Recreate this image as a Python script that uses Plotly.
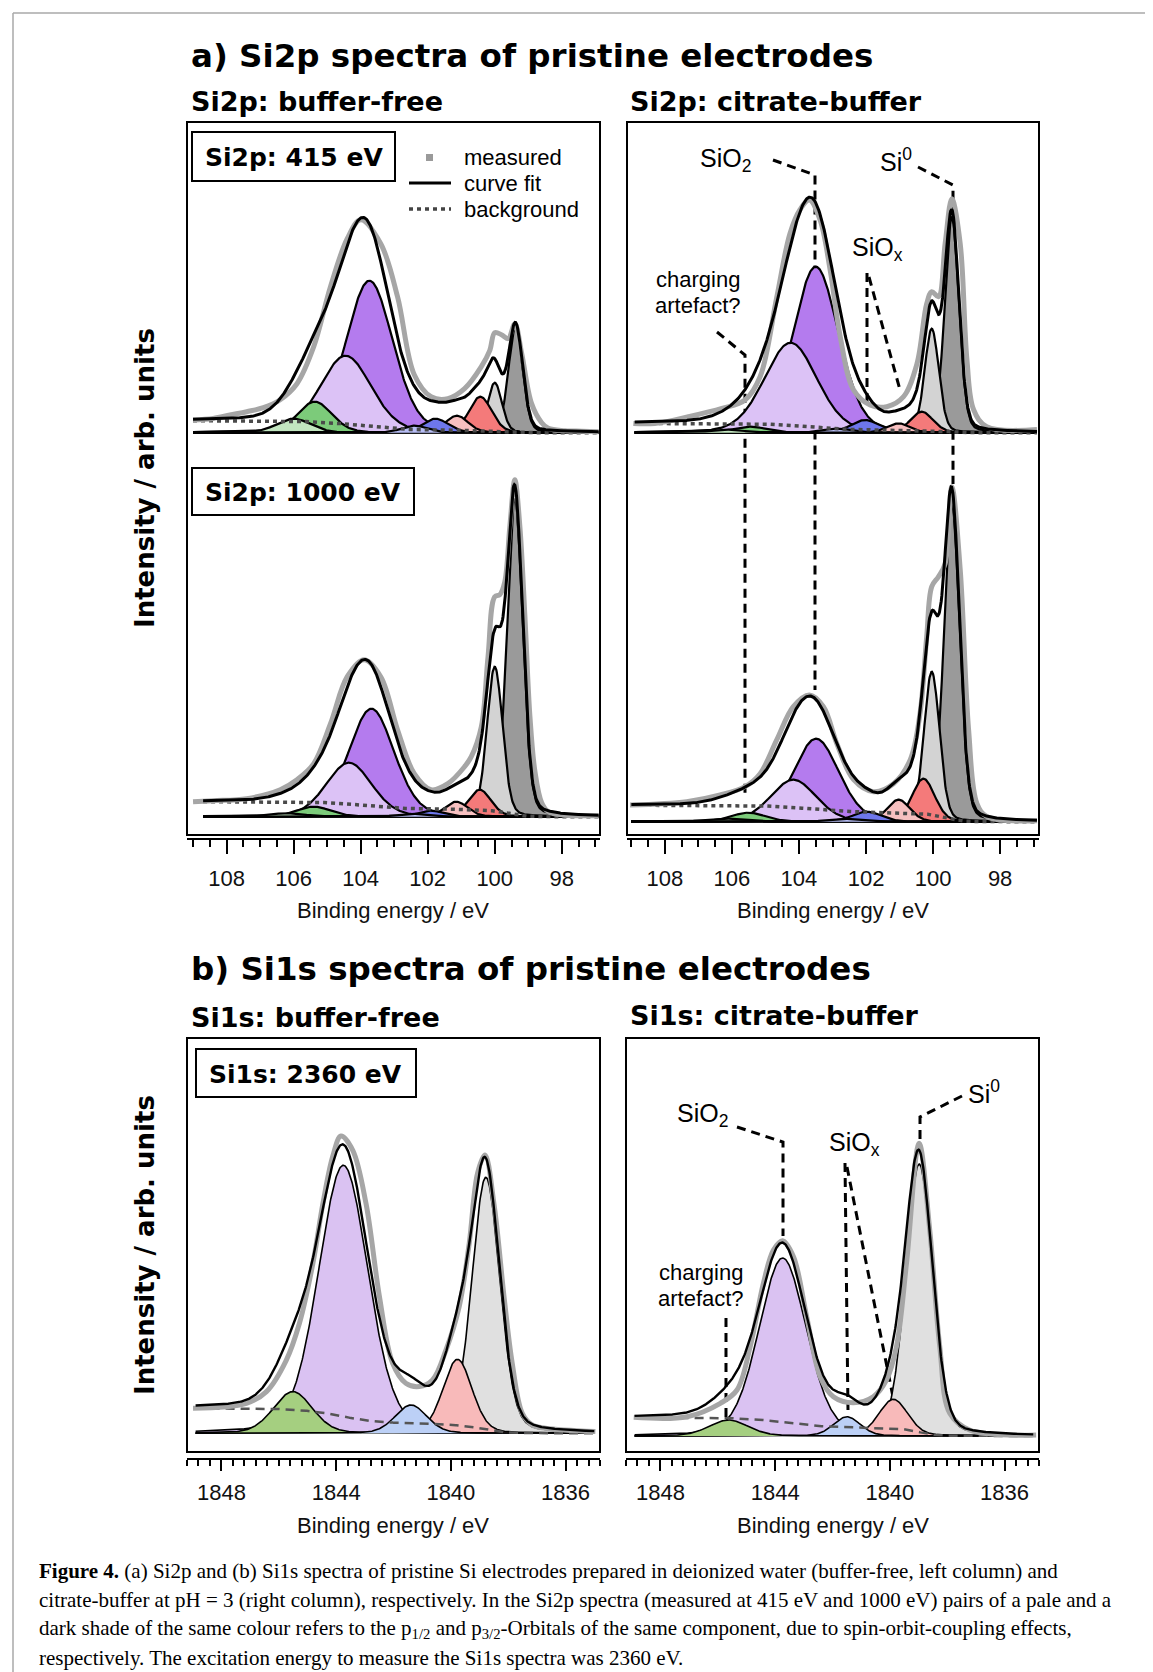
import numpy as np
import plotly.graph_objects as go

W, H = 1153, 1672
OFF = 8                      # the page body margin shifts the figure by 8 px
FW, FH = W - OFF, H - OFF

# ======================= DATA =======================
# Si2p fit components (order: green p1/2, green p3/2, purple p1/2, purple p3/2,
# blue p1/2, blue p3/2, red p1/2, red p3/2, grey p1/2, grey p3/2)
si2p_colors = ["#c2e6c0", "#7ccb7a", "#dcc2f6", "#b47bee", "#b7bdf4", "#6e77ec",
               "#f7c0c0", "#f47a7a", "#d3d3d3", "#9a9a9a"]

# buffer-free, 415 eV
A1_center = [106.00, 105.37, 104.45, 103.74, 102.40, 101.77, 101.13, 100.43, 100.00, 99.38]
A1_height = [14, 31, 77, 152, 7, 14, 17, 36, 50, 105]
A1_fwhm = [1.2, 1.2, 1.8, 1.65, 0.9, 0.9, 0.8, 0.8, 0.5, 0.5]
A1_bg = 12.0
A1_meas_E = [109.0, 108.4, 107.9, 107.4, 106.9, 106.4, 105.9, 105.4, 104.9, 104.4, 104.0, 103.4,
             102.9, 102.4, 101.9, 101.4, 100.9, 100.4, 100.15, 100.0, 99.8, 99.6, 99.4, 99.2,
             98.9, 98.6, 98.4, 97.9, 97.4, 96.9]
A1_meas_I = [12.7, 14.3, 17.7, 21, 25, 33, 49, 86, 146, 194, 213, 189,
             136, 58, 36, 34, 44, 66, 82, 100, 98, 94, 109, 80,
             29, 10, 4.3, 2, 1.5, 1]

# buffer-free, 1000 eV
A2_center = [106.20, 105.40, 104.35, 103.68, 102.50, 101.90, 101.15, 100.45, 100.00, 99.40]
A2_height = [3.5, 10, 54, 108, 3, 6, 15, 27, 150, 318]
A2_fwhm = [1.2, 1.2, 1.6, 1.6, 0.9, 0.9, 0.8, 0.8, 0.55, 0.55]
A2_bg = 15.0
A2_meas_E = [109.0, 108.4, 107.4, 106.4, 105.9, 105.4, 104.9, 104.4, 103.9, 103.4, 102.9, 102.4,
             101.9, 101.4, 100.9, 100.7, 100.4, 100.2, 100.0, 99.85, 99.7, 99.55, 99.4, 99.25,
             99.1, 98.95, 98.8, 98.6, 98.4, 97.9, 96.9]
A2_meas_I = [15, 16, 18, 27, 37, 53, 93, 140, 157, 140, 87, 43,
             27, 33, 50, 60, 90, 160, 220, 222, 235, 290, 337, 290,
             200, 100, 45, 14, 5, 1.5, 1]

# citrate-buffer, 415 eV
B1_center = [106.16, 105.46, 104.25, 103.50, 102.87, 102.03, 101.03, 100.34, 100.04, 99.44]
B1_height = [3, 6, 90, 166, 4, 12.7, 9.3, 21, 104, 215]
B1_fwhm = [1.2, 1.2, 1.85, 1.6, 1.0, 1.0, 0.8, 0.8, 0.5, 0.5]
B1_bg = 9.3
B1_meas_E = [108.94, 108.3, 107.3, 106.3, 105.61, 105.16, 104.66, 104.27, 103.97, 103.69, 103.37,
             103.07, 102.77, 102.37, 101.88, 101.38, 100.88, 100.48, 100.19, 100.04, 99.84,
             99.64, 99.44, 99.19, 98.99, 98.79, 98.4, 96.9]
B1_meas_I = [9.3, 9.3, 16, 24.3, 32.7, 56, 136, 199, 223, 232.7, 212.7,
             162.7, 96, 42.7, 27.7, 26, 36, 69, 129, 141, 136,
             189, 234, 189, 73, 23, 6, 3.3]

# citrate-buffer, 1000 eV
B2_center = [106.26, 105.51, 104.17, 103.49, 102.70, 101.98, 101.03, 100.29, 100.04, 99.44]
B2_height = [3.3, 9, 42, 83, 3, 10, 22, 43, 150, 318]
B2_fwhm = [1.2, 1.2, 1.6, 1.6, 1.0, 1.0, 0.8, 0.8, 0.55, 0.55]
B2_bg = 16.5
B2_meas_E = [109.04, 107.35, 106.35, 105.61, 105.16, 104.66, 104.17, 103.69, 103.27, 102.87,
             102.37, 101.78, 101.18, 100.68, 100.39, 100.19, 100.04, 99.84, 99.64, 99.44,
             99.19, 98.94, 98.69, 98.39, 96.9]
B2_meas_I = [16.7, 20, 26.7, 35, 48, 82, 115, 126.7, 115, 78,
             42, 30, 38, 62, 108, 185, 235, 245, 258, 335,
             252, 92, 18, 5, 1]

# Si1s fit components (order: green, purple, blue, pink, grey)
si1s_colors = ["#a5cf80", "#dac2f2", "#bcd0f6", "#f8baba", "#e0e0e0"]

C1_center = [1845.51, 1843.75, 1841.39, 1839.77, 1838.78]
C1_height = [41.7, 268, 28.3, 74, 256]
C1_fwhm = [1.6, 2.05, 1.3, 1.2, 1.15]
C1_bg = 25.0
C1_meas_E = [1848.99, 1847.13, 1846.43, 1845.74, 1845.28, 1844.81, 1844.46, 1844.12, 1843.83,
             1843.42, 1842.96, 1842.49, 1842.03, 1841.57, 1841.10, 1840.64, 1840.17, 1839.71,
             1839.36, 1839.07, 1838.81, 1838.49, 1838.14, 1837.86, 1837.51, 1837.16, 1836.70,
             1834.96]
C1_meas_I = [25, 30, 41.7, 73, 110, 170, 230, 276.7, 297.3,
             283, 230, 136.7, 70, 50, 46.7, 53.3, 83.3, 126.7,
             190, 260, 278.3, 228, 135, 70, 20, 8.3, 5,
             1.7]

C2_center = [1845.62, 1843.74, 1841.50, 1839.88, 1838.98]
C2_height = [16, 178, 19.3, 36.7, 272]
C2_fwhm = [1.6, 1.95, 1.1, 1.2, 1.1]
C2_bg = 18.5
C2_meas_E = [1848.93, 1847.07, 1845.91, 1845.33, 1844.87, 1844.41, 1844.06, 1843.74, 1843.36,
             1842.90, 1842.43, 1841.97, 1841.28, 1840.58, 1840.12, 1839.77, 1839.42, 1838.98,
             1838.61, 1838.26, 1837.91, 1837.22, 1834.90]
C2_meas_I = [18.7, 19.3, 32.7, 46, 89.3, 152.7, 186, 195.3, 179.3,
             119.3, 59.3, 39.3, 33.3, 39.3, 56, 89.3, 172.7, 292.7,
             206, 89.3, 22.7, 6, 1]

# tick labels
si2p_ticks = [108, 106, 104, 102, 100, 98]
si1s_ticks = [1848, 1844, 1840, 1836]

# ======================= HELPERS =======================
def px(x):
    return (x - OFF) / FW


def py(y):
    return 1 - (y - OFF) / FH


def pvoigt(E, c, h, w, eta):
    x = (E - c) / w
    return h * ((1 - eta) * np.exp(-4 * np.log(2) * x ** 2) + eta / (1 + 4 * x ** 2))


def shirley(E, comp_sum, b_high):
    order = np.argsort(E)
    Es, ys = E[order], comp_sum[order]
    cum = np.concatenate([[0.0], np.cumsum(0.5 * (ys[1:] + ys[:-1]) * np.diff(Es))])
    b = b_high * cum / cum[-1]
    out = np.empty_like(b)
    out[order] = b
    return out


boxAL = (187, 122, 600, 835)
boxAR = (627, 122, 1039, 835)
boxBL = (187, 1038, 600, 1452)
boxBR = (626, 1038, 1039, 1452)

spectra = [
    dict(box=boxAL, base=432.7, xr=(109.18, 96.86), grid=(109.0, 96.9), c=A1_center, h=A1_height,
         w=A1_fwhm, bg=A1_bg, mE=A1_meas_E, mI=A1_meas_I, kind="si2p", ticks=None),
    dict(box=boxAL, base=816.7, xr=(109.18, 96.86), grid=(108.7, 96.9), c=A2_center, h=A2_height,
         w=A2_fwhm, bg=A2_bg, mE=A2_meas_E, mI=A2_meas_I, kind="si2p", ticks=839),
    dict(box=boxAR, base=432.7, xr=(109.13, 96.84), grid=(108.9, 96.9), c=B1_center, h=B1_height,
         w=B1_fwhm, bg=B1_bg, mE=B1_meas_E, mI=B1_meas_I, kind="si2p", ticks=None),
    dict(box=boxAR, base=821.7, xr=(109.13, 96.84), grid=(109.0, 96.9), c=B2_center, h=B2_height,
         w=B2_fwhm, bg=B2_bg, mE=B2_meas_E, mI=B2_meas_I, kind="si2p", ticks=839),
    dict(box=boxBL, base=1433.3, xr=(1849.2, 1834.8), grid=(1848.9, 1835.0), c=C1_center, h=C1_height,
         w=C1_fwhm, bg=C1_bg, mE=C1_meas_E, mI=C1_meas_I, kind="si1s", ticks=1459),
    dict(box=boxBR, base=1436.0, xr=(1849.2, 1834.8), grid=(1848.9, 1835.0), c=C2_center, h=C2_height,
         w=C2_fwhm, bg=C2_bg, mE=C2_meas_E, mI=C2_meas_I, kind="si1s", ticks=1459),
]

SANS = "Liberation Sans, Arial, sans-serif"
HEAVY = "DejaVu Sans, Arial Black, sans-serif"
SERIF = "Liberation Serif, Times New Roman, serif"

fig = go.Figure()
layout = dict(width=FW, height=FH, margin=dict(l=0, r=0, t=0, b=0),
              paper_bgcolor="white", plot_bgcolor="rgba(0,0,0,0)", showlegend=False)

for i, s in enumerate(spectra, start=1):
    xa = "x" if i == 1 else f"x{i}"
    ya = "y" if i == 1 else f"y{i}"
    l, t, r, b = s["box"]
    E = np.linspace(s["grid"][0], s["grid"][1], 700)
    if s["kind"] == "si2p":
        eta, lw, cols = 0.18, 2.2, si2p_colors
    else:
        eta, lw, cols = 0.2, 1.6, si1s_colors
    comps = [pvoigt(E, c, h, w, eta) for c, h, w in zip(s["c"], s["h"], s["w"])]
    total = np.sum(comps, axis=0)
    bg = shirley(E, total, s["bg"])
    env = total + bg
    order = np.argsort(s["h"])[::-1]
    for k in order:
        fig.add_trace(go.Scatter(x=E, y=comps[k], mode="lines", fill="tozeroy",
                                 fillcolor=cols[k], line=dict(color="black", width=lw),
                                 xaxis=xa, yaxis=ya, hoverinfo="skip"))
    if s["kind"] == "si2p":
        bgline = dict(color="#4a4a4a", width=3.5, dash="4px,4px")
    else:
        bgline = dict(color="#555555", width=2.5, dash="9px,6px")
    fig.add_trace(go.Scatter(x=E, y=bg, mode="lines", line=bgline, xaxis=xa, yaxis=ya, hoverinfo="skip"))
    fig.add_trace(go.Scatter(x=s["mE"], y=s["mI"], mode="lines",
                             line=dict(color="#a6a6a6", width=5, shape="spline"),
                             xaxis=xa, yaxis=ya, hoverinfo="skip"))
    fig.add_trace(go.Scatter(x=E, y=env, mode="lines",
                             line=dict(color="black", width=3 if s["kind"] == "si2p" else 2.4),
                             xaxis=xa, yaxis=ya, hoverinfo="skip"))

    xdict = dict(domain=[px(l), px(r)], range=list(s["xr"]), showgrid=False, zeroline=False, fixedrange=True)
    if s["ticks"] is None:
        xdict.update(visible=False, anchor=ya)
    else:
        if s["kind"] == "si2p":
            tv, mdt, t0, tl, mtl, so = si2p_ticks, 0.5, 100, 14, 7, 6
        else:
            tv, mdt, t0, tl, mtl, so = si1s_ticks, 0.4, 1836, 11, 6, 3
        xdict.update(anchor="free", position=py(s["ticks"]), showline=True, linecolor="black", linewidth=1.5,
                     ticks="outside", ticklen=tl, tickwidth=1.6, tickcolor="black",
                     tickmode="array", tickvals=tv, ticktext=[str(v) for v in tv],
                     tickfont=dict(family=SANS, size=22, color="#111"), ticklabelstandoff=so,
                     minor=dict(ticks="outside", ticklen=mtl, tickwidth=1.6, tickcolor="black",
                                dtick=mdt, tick0=t0, showgrid=False))
    layout["xaxis" if i == 1 else f"xaxis{i}"] = xdict
    layout["yaxis" if i == 1 else f"yaxis{i}"] = dict(
        domain=[py(b), py(t)], range=[-(b - s["base"]), s["base"] - t], visible=False,
        anchor=xa, fixedrange=True)

shapes = []
annotations = []

# outer grey frame
shapes.append(dict(type="line", xref="paper", yref="paper", x0=px(13), y0=py(13), x1=1, y1=py(13),
                   line=dict(color="#a8a8a8", width=1.5)))
shapes.append(dict(type="line", xref="paper", yref="paper", x0=px(13), y0=py(13), x1=px(13), y1=0,
                   line=dict(color="#a8a8a8", width=1.5)))

# panel frames
for (l, t, r, b) in [boxAL, boxAR, boxBL, boxBR]:
    shapes.append(dict(type="rect", xref="paper", yref="paper", x0=px(l), y0=py(b), x1=px(r), y1=py(t),
                       line=dict(color="black", width=2), layer="above"))

# label boxes
for (l, t, r, b, txt) in [(192, 132, 395, 181, "Si2p: 415 eV"), (192, 468, 414, 515, "Si2p: 1000 eV"),
                          (196, 1049, 416, 1097, "Si1s: 2360 eV")]:
    shapes.append(dict(type="rect", xref="paper", yref="paper", x0=px(l), y0=py(b), x1=px(r), y1=py(t),
                       line=dict(color="black", width=2), fillcolor="white", layer="above"))
    annotations.append(dict(text=f"<b>{txt}</b>", x=px((l + r) / 2), y=py((t + b) / 2 + 1), xref="paper",
                            yref="paper", xanchor="center", yanchor="middle", showarrow=False,
                            font=dict(family=HEAVY, size=25, color="black")))

# legend (inside Si2p 415 eV, buffer-free)
shapes.append(dict(type="rect", xref="paper", yref="paper", x0=px(426), y0=py(161), x1=px(433), y1=py(154),
                   fillcolor="#9a9a9a", line=dict(width=0)))
shapes.append(dict(type="line", xref="paper", yref="paper", x0=px(409), y0=py(183), x1=px(451), y1=py(183),
                   line=dict(color="black", width=3)))
shapes.append(dict(type="line", xref="paper", yref="paper", x0=px(409), y0=py(209), x1=px(451), y1=py(209),
                   line=dict(color="#444", width=3.5, dash="4px,4px")))
for txt, yy in [("measured", 157), ("curve fit", 184), ("background", 210)]:
    annotations.append(dict(text=txt, x=px(462), y=py(yy), xref="paper", yref="paper", xanchor="left",
                            yanchor="middle", showarrow=False, font=dict(family=SANS, size=22, color="black")))

# dashed guide lines (drawn below the fills)
guide_paths = [
    [(773, 160), (815, 175), (815, 690)],
    [(918, 167), (953, 185), (953, 484)],
    [(717, 332), (745, 355), (745, 797)],
    [(867, 273), (867, 407)],
    [(869, 277), (900, 390)],
    [(737, 1127), (783, 1142), (783, 1236)],
    [(845, 1163), (848, 1410)],
    [(847, 1167), (893, 1397)],
    [(962, 1096), (920, 1117), (920, 1140)],
    [(726, 1318), (726, 1418)],
]
for pts in guide_paths:
    path = "M " + " L ".join(f"{px(x):.5f},{py(y):.5f}" for x, y in pts)
    shapes.append(dict(type="path", xref="paper", yref="paper", path=path, layer="below",
                       line=dict(color="black", width=3, dash="9px,6px")))

lab_font = dict(family=SANS, size=25, color="black")
small_font = dict(family=SANS, size=22, color="black")
for txt, x, y, fnt in [("SiO<sub>2</sub>", 698, 160, lab_font), ("Si<sup>0</sup>", 878, 160, lab_font),
                       ("SiO<sub>x</sub>", 850, 249, lab_font),
                       ("SiO<sub>2</sub>", 675, 1115, lab_font), ("Si<sup>0</sup>", 966, 1092, lab_font),
                       ("SiO<sub>x</sub>", 827, 1144, lab_font)]:
    annotations.append(dict(text=txt, x=px(x), y=py(y), xref="paper", yref="paper", xanchor="left",
                            yanchor="middle", showarrow=False, font=fnt))
for x, y1, y2 in [(698, 280, 306), (701, 1272, 1298)]:
    annotations.append(dict(text="charging", x=px(x), y=py(y1), xref="paper", yref="paper", xanchor="center",
                            yanchor="middle", showarrow=False, font=small_font))
    annotations.append(dict(text="artefact?", x=px(x), y=py(y2), xref="paper", yref="paper", xanchor="center",
                            yanchor="middle", showarrow=False, font=small_font))

# headings
for txt, x, y, size in [("a) Si2p spectra of pristine electrodes", 189, 56, 32.5),
                        ("Si2p: buffer-free", 189, 101, 27), ("Si2p: citrate-buffer", 628, 101, 27),
                        ("b) Si1s spectra of pristine electrodes", 189, 969, 32.5),
                        ("Si1s: buffer-free", 189, 1017, 27), ("Si1s: citrate-buffer", 628, 1015, 27)]:
    annotations.append(dict(text=f"<b>{txt}</b>", x=px(x), y=py(y), xref="paper", yref="paper",
                            xanchor="left", yanchor="middle", showarrow=False,
                            font=dict(family=HEAVY, size=size, color="black")))

# axis titles
for x, y in [(393, 910), (833, 910), (393, 1525), (833, 1525)]:
    annotations.append(dict(text="Binding energy / eV", x=px(x), y=py(y), xref="paper", yref="paper",
                            xanchor="center", yanchor="middle", showarrow=False,
                            font=dict(family=SANS, size=22, color="#111")))
for y in [478, 1245]:
    annotations.append(dict(text="<b>Intensity / arb. units</b>", x=px(145), y=py(y), xref="paper",
                            yref="paper", xanchor="center", yanchor="middle", showarrow=False, textangle=-90,
                            font=dict(family=HEAVY, size=26, color="black")))

# caption
caption = [
    "<b>Figure 4.</b> (a) Si2p and (b) Si1s spectra of pristine Si electrodes prepared in deionized water (buffer-free, left column) and",
    "citrate-buffer at pH = 3 (right column), respectively. In the Si2p spectra (measured at 415 eV and 1000 eV) pairs of a pale and a",
    "dark shade of the same colour refers to the p<sub>1/2</sub> and p<sub>3/2</sub>-Orbitals of the same component, due to spin-orbit-coupling effects,",
    "respectively. The excitation energy to measure the Si1s spectra was 2360 eV.",
]
for k, line in enumerate(caption):
    annotations.append(dict(text=line, x=px(37), y=py(1571 + 29 * k), xref="paper", yref="paper",
                            xanchor="left", yanchor="middle", showarrow=False,
                            font=dict(family=SERIF, size=21, color="black")))

layout["shapes"] = shapes
layout["annotations"] = annotations
fig.update_layout(**layout)
fig.write_html("out.html")
